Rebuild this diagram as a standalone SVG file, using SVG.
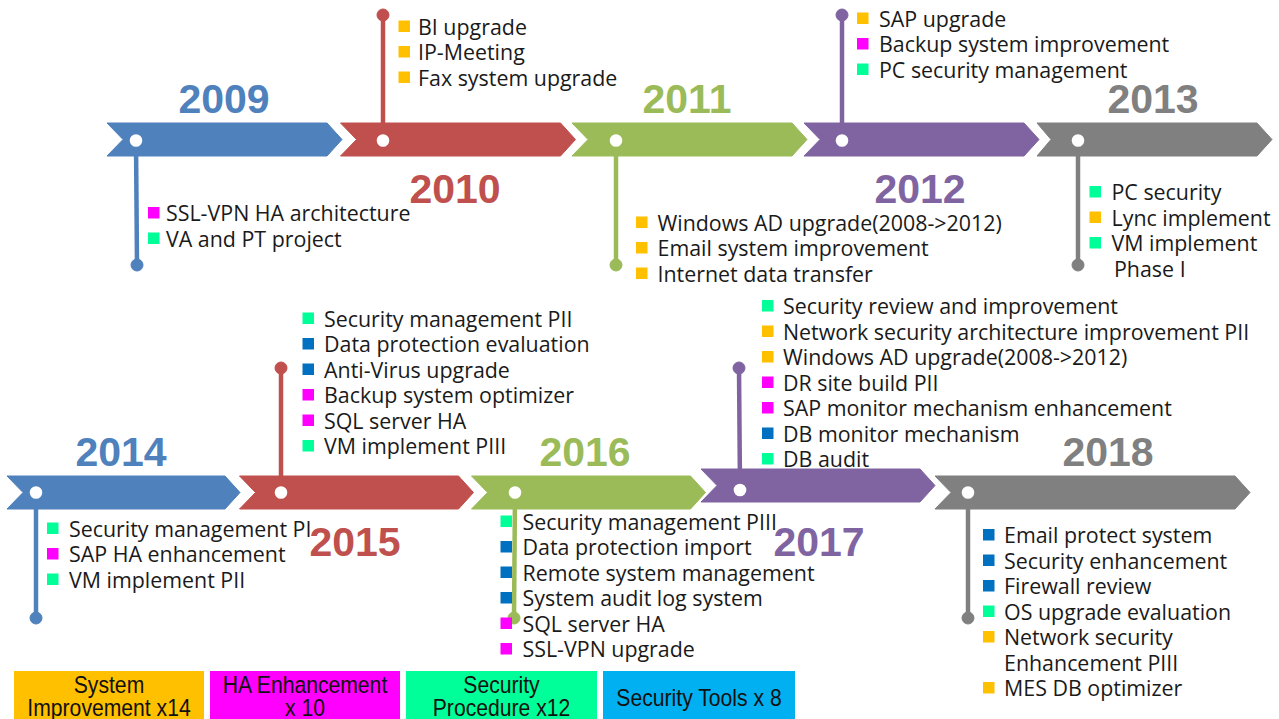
<svg xmlns="http://www.w3.org/2000/svg" width="1279" height="719" viewBox="0 0 1279 719">
<style>
.t{font-family:"Open Sans","Noto Sans",sans-serif;font-size:21.4px;fill:#1a1a1a}
.yr{font-family:"Liberation Sans",Arial,sans-serif;font-weight:bold;font-size:41px;text-anchor:middle}
.lg{font-family:"Liberation Sans Narrow","Liberation Sans",Arial,sans-serif;font-size:23.5px;text-anchor:middle;fill:#111}
.o{fill:#FFC000}.m{fill:#FF00FF}.g{fill:#00FF99}.b{fill:#0070C0}
.dot{fill:#fff}
.cb{fill:#4F81BD;stroke:#4F81BD}.cr{fill:#C0504D;stroke:#C0504D}.cg{fill:#9BBB59;stroke:#9BBB59}.cp{fill:#8064A2;stroke:#8064A2}.cy{fill:#808080;stroke:#808080}
.ln{stroke-width:4.5}
</style>
<rect width="1279" height="719" fill="#fff"/>
<g id="connectors">
<line class="cb ln" x1="136" y1="141" x2="137" y2="265"/><circle class="cb" cx="137" cy="265" r="6" stroke="none"/>
<line class="cr ln" x1="383" y1="140" x2="383" y2="15"/><circle class="cr" cx="383" cy="15" r="6" stroke="none"/>
<line class="cg ln" x1="616" y1="140" x2="616" y2="265"/><circle class="cg" cx="616" cy="265" r="6" stroke="none"/>
<line class="cp ln" x1="842" y1="140" x2="842" y2="15"/><circle class="cp" cx="842" cy="15" r="6" stroke="none"/>
<line class="cy ln" x1="1078" y1="141" x2="1078" y2="265"/><circle class="cy" cx="1078" cy="265" r="6" stroke="none"/>
<line class="cb ln" x1="36" y1="492" x2="36" y2="618"/><circle class="cb" cx="36" cy="618" r="6" stroke="none"/>
<line class="cr ln" x1="281" y1="492" x2="281" y2="368"/><circle class="cr" cx="281" cy="368" r="6" stroke="none"/>
<line class="cg ln" x1="515" y1="492" x2="514" y2="618"/><circle class="cg" cx="514" cy="618" r="6" stroke="none"/>
<line class="cp ln" x1="740" y1="490" x2="739" y2="368"/><circle class="cp" cx="739" cy="368" r="6" stroke="none"/>
<line class="cy ln" x1="968" y1="492" x2="968" y2="618"/><circle class="cy" cx="968" cy="618" r="6" stroke="none"/>
</g>
<g id="y2009">
<polygon class="cb" stroke="none" points="107,123 327,123 342,139.5 327,156 107,156 123,139.5"/>
<circle class="dot" cx="136" cy="140.5" r="6.3"/>
<text class="yr" x="224" y="113" fill="#4F81BD">2009</text>
<rect class="m" x="148" y="207" width="11.5" height="11.5"/><text class="t" x="166" y="221">SSL-VPN HA architecture</text>
<rect class="g" x="148" y="232.5" width="11.5" height="11.5"/><text class="t" x="166" y="246.5">VA and PT project</text>
</g>
<g id="y2010">
<polygon class="cr" stroke="none" points="340.5,123 560.5,123 575.5,139.5 560.5,156 340.5,156 356.5,139.5"/>
<circle class="dot" cx="383" cy="140.5" r="6.3"/>
<text class="yr" x="455" y="203" fill="#C0504D">2010</text>
<rect class="o" x="398.5" y="20.5" width="11.5" height="11.5"/><text class="t" x="418" y="34.5">BI upgrade</text>
<rect class="o" x="398.5" y="46" width="11.5" height="11.5"/><text class="t" x="418" y="60">IP-Meeting</text>
<rect class="o" x="398.5" y="71.5" width="11.5" height="11.5"/><text class="t" x="418" y="85.5">Fax system upgrade</text>
</g>
<g id="y2011">
<polygon class="cg" stroke="none" points="572,123 792,123 807,139.5 792,156 572,156 588,139.5"/>
<circle class="dot" cx="616" cy="140.5" r="6.3"/>
<text class="yr" x="687" y="113" fill="#9BBB59">2011</text>
<rect class="o" x="636" y="216.5" width="11.5" height="11.5"/><text class="t" x="657.5" y="230.5">Windows AD upgrade(2008-&gt;2012)</text>
<rect class="o" x="636" y="242" width="11.5" height="11.5"/><text class="t" x="657.5" y="256">Email system improvement</text>
<rect class="o" x="636" y="267.5" width="11.5" height="11.5"/><text class="t" x="657.5" y="281.5">Internet data transfer</text>
</g>
<g id="y2012">
<polygon class="cp" stroke="none" points="804,123 1024,123 1039,139.5 1024,156 804,156 820,139.5"/>
<circle class="dot" cx="842" cy="140.5" r="6.3"/>
<text class="yr" x="920" y="203" fill="#8064A2">2012</text>
<rect class="o" x="857" y="12.5" width="11.5" height="11.5"/><text class="t" x="879" y="26.5">SAP upgrade</text>
<rect class="m" x="857" y="38" width="11.5" height="11.5"/><text class="t" x="879" y="52">Backup system improvement</text>
<rect class="g" x="857" y="63.5" width="11.5" height="11.5"/><text class="t" x="879" y="77.5">PC security management</text>
</g>
<g id="y2013">
<polygon class="cy" stroke="none" points="1037,123 1257,123 1272,139.5 1257,156 1037,156 1051,139.5"/>
<circle class="dot" cx="1078" cy="140.5" r="6.3"/>
<text class="yr" x="1153" y="113" fill="#808080">2013</text>
<rect class="g" x="1089.5" y="186" width="11.5" height="11.5"/><text class="t" x="1111.5" y="200">PC security</text>
<rect class="o" x="1089.5" y="211.5" width="11.5" height="11.5"/><text class="t" x="1111.5" y="225.5">Lync implement</text>
<rect class="g" x="1089.5" y="237" width="11.5" height="11.5"/><text class="t" x="1111.5" y="251">VM implement</text>
<text class="t" x="1114" y="276.5">Phase I</text>
</g>
<g id="y2014">
<polygon class="cb" stroke="none" points="7,476 225,476 240,492.5 225,509 7,509 23,492.5"/>
<circle class="dot" cx="36" cy="492.5" r="6.3"/>
<text class="yr" x="121" y="466" fill="#4F81BD">2014</text>
<rect class="g" x="47" y="522.5" width="11.5" height="11.5"/><text class="t" x="69" y="536.5">Security management PI</text>
<rect class="m" x="47" y="548" width="11.5" height="11.5"/><text class="t" x="69" y="562">SAP HA enhancement</text>
<rect class="g" x="47" y="573.5" width="11.5" height="11.5"/><text class="t" x="69" y="587.5">VM implement PII</text>
</g>
<g id="y2015">
<polygon class="cr" stroke="none" points="239.5,476 458.5,476 473.5,492.5 458.5,509 239.5,509 255.5,492.5"/>
<circle class="dot" cx="281" cy="492.5" r="6.3"/>
<text class="yr" x="355" y="556" fill="#C0504D">2015</text>
<rect class="g" x="302.5" y="312.5" width="11.5" height="11.5"/><text class="t" x="324" y="326.5">Security management PII</text>
<rect class="b" x="302.5" y="338" width="11.5" height="11.5"/><text class="t" x="324" y="352">Data protection evaluation</text>
<rect class="b" x="302.5" y="363.5" width="11.5" height="11.5"/><text class="t" x="324" y="377.5">Anti-Virus upgrade</text>
<rect class="m" x="302.5" y="389" width="11.5" height="11.5"/><text class="t" x="324" y="403">Backup system optimizer</text>
<rect class="m" x="302.5" y="414.5" width="11.5" height="11.5"/><text class="t" x="324" y="428.5">SQL server HA</text>
<rect class="g" x="302.5" y="440" width="11.5" height="11.5"/><text class="t" x="324" y="454">VM implement PIII</text>
</g>
<g id="y2016">
<polygon class="cg" stroke="none" points="471.5,476 690.5,476 705.5,492.5 690.5,509 471.5,509 487.5,492.5"/>
<circle class="dot" cx="515" cy="492.5" r="6.3"/>
<text class="yr" x="585" y="466" fill="#9BBB59">2016</text>
<rect class="g" x="500.5" y="515.5" width="11.5" height="11.5"/><text class="t" x="522.5" y="529.5">Security management PIII</text>
<rect class="b" x="500.5" y="541" width="11.5" height="11.5"/><text class="t" x="522.5" y="555">Data protection import</text>
<rect class="b" x="500.5" y="566.5" width="11.5" height="11.5"/><text class="t" x="522.5" y="580.5">Remote system management</text>
<rect class="b" x="500.5" y="592" width="11.5" height="11.5"/><text class="t" x="522.5" y="606">System audit log system</text>
<rect class="m" x="500.5" y="617.5" width="11.5" height="11.5"/><text class="t" x="522.5" y="631.5">SQL server HA</text>
<rect class="m" x="500.5" y="643" width="11.5" height="11.5"/><text class="t" x="522.5" y="657">SSL-VPN upgrade</text>
</g>
<g id="y2017">
<polygon class="cp" stroke="none" points="701,469 920,469 935,485.5 920,502 701,502 717,485.5"/>
<circle class="dot" cx="740" cy="490" r="6.3"/>
<text class="yr" x="819" y="556" fill="#8064A2">2017</text>
<rect class="g" x="762" y="300" width="11.5" height="11.5"/><text class="t" x="783" y="314">Security review and improvement</text>
<rect class="o" x="762" y="325.5" width="11.5" height="11.5"/><text class="t" x="783" y="339.5">Network security architecture improvement PII</text>
<rect class="o" x="762" y="351" width="11.5" height="11.5"/><text class="t" x="783" y="365">Windows AD upgrade(2008-&gt;2012)</text>
<rect class="m" x="762" y="376.5" width="11.5" height="11.5"/><text class="t" x="783" y="390.5">DR site build PII</text>
<rect class="m" x="762" y="402" width="11.5" height="11.5"/><text class="t" x="783" y="416">SAP monitor mechanism enhancement</text>
<rect class="b" x="762" y="427.5" width="11.5" height="11.5"/><text class="t" x="783" y="441.5">DB monitor mechanism</text>
<rect class="g" x="762" y="453" width="11.5" height="11.5"/><text class="t" x="783" y="467">DB audit</text>
</g>
<g id="y2018">
<polygon class="cy" stroke="none" points="935,476 1235,476 1250,492.5 1235,509 935,509 951,492.5"/>
<circle class="dot" cx="968" cy="492.5" r="6.3"/>
<text class="yr" x="1108" y="466" fill="#808080">2018</text>
<rect class="b" x="983" y="529" width="11.5" height="11.5"/><text class="t" x="1004" y="543">Email protect system</text>
<rect class="b" x="983" y="554.5" width="11.5" height="11.5"/><text class="t" x="1004" y="568.5">Security enhancement</text>
<rect class="b" x="983" y="580" width="11.5" height="11.5"/><text class="t" x="1004" y="594">Firewall review</text>
<rect class="g" x="983" y="605.5" width="11.5" height="11.5"/><text class="t" x="1004" y="619.5">OS upgrade evaluation</text>
<rect class="o" x="983" y="631" width="11.5" height="11.5"/><text class="t" x="1004" y="645">Network security</text>
<text class="t" x="1004" y="670.5">Enhancement PIII</text>
<rect class="o" x="983" y="682" width="11.5" height="11.5"/><text class="t" x="1004" y="696">MES DB optimizer</text>
</g>
<g id="legend">
<rect x="14" y="671" width="190" height="48" fill="#FFC000"/>
<text class="lg" transform="translate(109,693) scale(0.9,1)">System</text>
<text class="lg" transform="translate(109,716) scale(0.9,1)">Improvement x14</text>
<rect x="210" y="671" width="190" height="48" fill="#FF00FF"/>
<text class="lg" transform="translate(305,693) scale(0.9,1)">HA Enhancement</text>
<text class="lg" transform="translate(305,716) scale(0.9,1)">x 10</text>
<rect x="406" y="671" width="191" height="48" fill="#00FF99"/>
<text class="lg" transform="translate(501.5,693) scale(0.9,1)">Security</text>
<text class="lg" transform="translate(501.5,716) scale(0.9,1)">Procedure x12</text>
<rect x="603" y="671" width="192" height="48" fill="#00B0F0"/>
<text class="lg" transform="translate(699,706) scale(0.9,1)">Security Tools x 8</text>
</g>
</svg>
